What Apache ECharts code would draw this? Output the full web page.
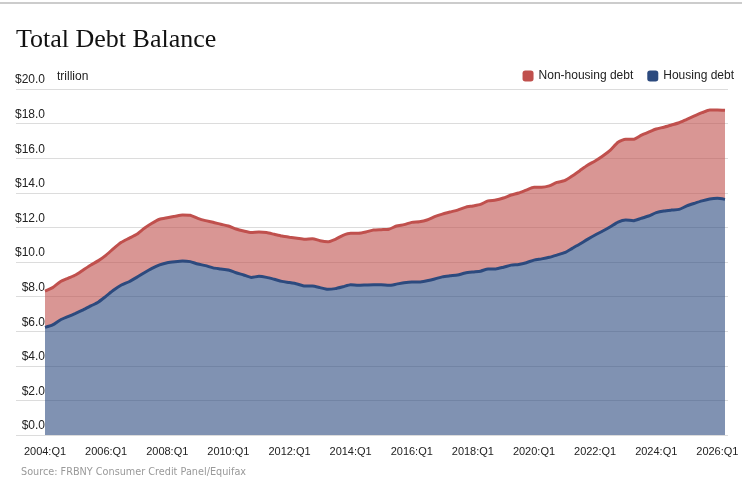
<!DOCTYPE html>
<html>
<head>
<meta charset="utf-8">
<title>Total Debt Balance</title>
<script src="https://cdn.jsdelivr.net/npm/echarts@6/dist/echarts.min.js"></script>
<style>
html, body { margin: 0; padding: 0; background: #fff; }
#debt { width: 742px; height: 492px; }
</style>
</head>
<body>
<div id="debt"></div>
<script>
// quarterly balances, trillions of dollars, from 2004:Q1
var housingDebt = [
	6.22, 6.36, 6.65, 6.84, 7.03, 7.23, 7.46, 7.69, 8.03, 8.38,
	8.67, 8.86, 9.11, 9.38, 9.63, 9.83, 9.96, 10.02, 10.06, 10.02,
	9.88, 9.79, 9.66, 9.60, 9.54, 9.38, 9.25, 9.11, 9.17, 9.11,
	9.00, 8.88, 8.81, 8.73, 8.61, 8.61, 8.52, 8.42, 8.46, 8.57,
	8.69, 8.65, 8.67, 8.69, 8.69, 8.65, 8.72, 8.80, 8.84, 8.84,
	8.92, 9.02, 9.14, 9.20, 9.25, 9.36, 9.42, 9.47, 9.60, 9.60,
	9.70, 9.82, 9.86, 9.96, 10.11, 10.18, 10.27, 10.40, 10.54, 10.79,
	11.04, 11.31, 11.56, 11.79, 12.04, 12.31, 12.43, 12.39, 12.52, 12.66,
	12.85, 12.95, 13.00, 13.04, 13.24, 13.39, 13.53, 13.64, 13.68, 13.62
];
var nonHousingDebt = [
	2.10, 2.16, 2.21, 2.22, 2.22, 2.31, 2.37, 2.39, 2.37, 2.41,
	2.47, 2.51, 2.49, 2.57, 2.61, 2.64, 2.60, 2.62, 2.66, 2.68,
	2.64, 2.60, 2.64, 2.58, 2.54, 2.53, 2.54, 2.59, 2.56, 2.59,
	2.60, 2.62, 2.62, 2.64, 2.70, 2.74, 2.71, 2.75, 2.85, 2.97,
	2.97, 3.01, 3.06, 3.16, 3.18, 3.24, 3.36, 3.36, 3.45, 3.49,
	3.51, 3.60, 3.63, 3.69, 3.75, 3.80, 3.82, 3.86, 3.93, 3.98,
	4.00, 4.05, 4.13, 4.20, 4.21, 4.14, 4.13, 4.20, 4.16, 4.18,
	4.24, 4.28, 4.28, 4.34, 4.43, 4.61, 4.66, 4.70, 4.80, 4.85,
	4.84, 4.84, 4.92, 5.01, 5.01, 5.05, 5.10, 5.15, 5.11, 5.15
];
var firstYear = 2004;
var quarters = [];
for (var i = 0; i < housingDebt.length; i++) {
	quarters.push((firstYear + Math.floor(i / 4)) + ':Q' + (i % 4 + 1));
}

var housingColor = '#2c4a7e';
var nonHousingColor = '#c0504d';
var labelFont = 'Liberation Sans, Arial, sans-serif';

/**
 * 画总债务堆叠面积图
 */
function initDebtChart() {
	var myChart = echarts.init(document.getElementById('debt'));
	var option = {
		animation: false,
		title: {
			text: 'Total Debt Balance',
			left: 11,
			top: 22,
			textStyle: {
				fontFamily: 'Liberation Serif, Georgia, serif',
				fontSize: 26,
				fontWeight: 'normal',
				color: '#111'
			}
		},
		legend: {
			data: ['Non-housing debt', 'Housing debt'],
			right: 3,
			top: 65,
			icon: 'roundRect',
			itemWidth: 11,
			itemHeight: 11,
			itemGap: 14,
			textStyle: { fontFamily: labelFont, fontSize: 12, color: '#222' }
		},
		// grid 0 only carries the long gridlines, grid 1 holds the data
		grid: [
			{ left: 16, right: 14, top: 89, bottom: 57 },
			{ left: 45, right: 17, top: 89, bottom: 57 }
		],
		xAxis: [{
			gridIndex: 0,
			type: 'value',
			show: false
		}, {
			gridIndex: 1,
			type: 'category',
			boundaryGap: false,
			data: quarters,
			axisLine: { show: false },
			axisTick: {
				show: true,
				inside: true,
				length: 3,
				interval: 3,
				lineStyle: { color: '#fff', width: 1 }
			},
			axisLabel: {
				interval: 7,
				margin: 11,
				fontFamily: labelFont,
				fontSize: 11,
				color: '#222'
			}
		}],
		yAxis: [{
			gridIndex: 0,
			type: 'value',
			min: 0,
			max: 20,
			interval: 2,
			axisLine: { show: false },
			axisTick: { show: false },
			axisLabel: { show: false },
			splitLine: { lineStyle: { color: '#dcdcdc', width: 1 } }
		}, {
			gridIndex: 1,
			type: 'value',
			min: 0,
			max: 20,
			interval: 2,
			axisLine: { show: false },
			axisTick: { show: false },
			splitLine: { show: false },
			axisLabel: {
				margin: 0,
				align: 'right',
				verticalAlign: 'bottom',
				padding: [0, 0, 3, 0],
				fontFamily: labelFont,
				fontSize: 12,
				color: '#222',
				formatter: function (v) {
					return '$' + v.toFixed(1);
				}
			}
		}],
		series: [{
			name: 'Housing debt',
			type: 'line',
			xAxisIndex: 1,
			yAxisIndex: 1,
			stack: 'debt',
			data: housingDebt,
			symbol: 'none',
			smooth: 0.2,
			z: 3,
			lineStyle: { width: 3, color: housingColor },
			itemStyle: { color: housingColor },
			areaStyle: { color: housingColor, opacity: 0.6 }
		}, {
			name: 'Non-housing debt',
			type: 'line',
			xAxisIndex: 1,
			yAxisIndex: 1,
			stack: 'debt',
			data: nonHousingDebt,
			symbol: 'none',
			smooth: 0.2,
			z: 2,
			lineStyle: { width: 3, color: nonHousingColor },
			itemStyle: { color: nonHousingColor },
			areaStyle: { color: nonHousingColor, opacity: 0.6 }
		}],
		graphic: [{
			type: 'rect',
			left: 0,
			top: 2,
			shape: { width: 742, height: 2 },
			style: { fill: '#cccccc' }
		}, {
			type: 'text',
			left: 57,
			top: 71,
			style: { text: 'trillion', font: '12px ' + labelFont, fill: '#222' }
		}, {
			type: 'text',
			left: 21,
			top: 467,
			style: {
				text: 'Source: FRBNY Consumer Credit Panel/Equifax',
				font: '9.7px DejaVu Sans, sans-serif',
				fill: '#999'
			}
		}]
	};
	myChart.setOption(option);
	window.onresize = myChart.resize;
}

initDebtChart();
</script>
</body>
</html>
